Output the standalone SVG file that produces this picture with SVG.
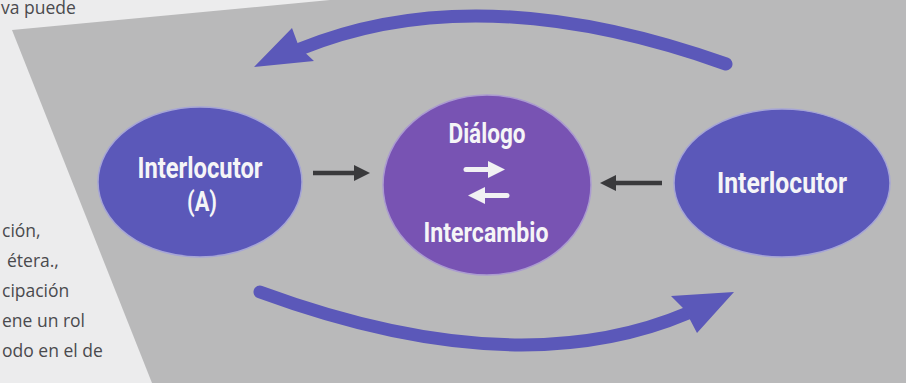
<svg xmlns="http://www.w3.org/2000/svg" width="906" height="383" viewBox="0 0 906 383">
  <style>
    .page { fill: #ececed; }
    .panel { fill: #b9b9ba; }
    .side { font-family: "Open Sans", "Noto Sans", sans-serif; font-size: 17.5px; fill: #4a4a4d; }
    .node-blue { fill: #5b58b9; stroke: #a6a5d6; stroke-width: 1.5; }
    .node-purple { fill: #7853b3; stroke: #ab9bd0; stroke-width: 1.5; }
    .lbl { font-family: "Roboto", "Liberation Sans", sans-serif; font-weight: bold; fill: #f5f5f7; text-anchor: middle; }
    .big-shaft { fill: none; stroke: #5b58b9; stroke-width: 13; stroke-linecap: round; }
    .big-head { fill: #5b58b9; }
    .dark-shaft { stroke: #3a3a3c; stroke-width: 4.5; }
    .dark-head { fill: #3a3a3c; }
    .white-shaft { stroke: #f1f1f3; stroke-width: 5; stroke-linecap: round; }
    .white-head { fill: #f1f1f3; }
  </style>

  <rect class="page" x="0" y="0" width="906" height="383"/>
  <polygon class="panel" points="12,30 330,0 906,0 906,383 152,383"/>

  <g id="page-text">
    <text class="side" x="1" y="14">va puede</text>
    <text class="side" x="2" y="237">ción,</text>
    <text class="side" x="7" y="267">étera.,</text>
    <text class="side" x="2" y="297">cipación</text>
    <text class="side" x="2" y="327">ene un rol</text>
    <text class="side" x="2" y="357">odo en el de</text>
  </g>

  <g id="connectors">
    <g id="arrow-top">
      <path class="big-shaft" d="M726,64 Q478,-24 300,49"/>
      <polygon class="big-head" points="254,67 292,28 299,47 314,61"/>
    </g>
    <g id="arrow-bottom">
      <path class="big-shaft" d="M260,292 Q516,386 688,313"/>
      <polygon class="big-head" points="734,292 671,296 685,310 697,333"/>
    </g>
    <g id="arrow-a-to-center">
      <line class="dark-shaft" x1="313" y1="173" x2="358" y2="173"/>
      <polygon class="dark-head" points="370,173 354,165 354,181"/>
    </g>
    <g id="arrow-b-to-center">
      <line class="dark-shaft" x1="662" y1="183" x2="612" y2="183"/>
      <polygon class="dark-head" points="600,183 616,175 616,191"/>
    </g>
  </g>

  <g id="node-interlocutor-a">
    <ellipse class="node-blue" cx="200" cy="182" rx="102" ry="75"/>
    <text class="lbl" x="200" y="178" font-size="30" textLength="125" lengthAdjust="spacingAndGlyphs">Interlocutor</text>
    <text class="lbl" x="202" y="211" font-size="28" textLength="30" lengthAdjust="spacingAndGlyphs">(A)</text>
  </g>

  <g id="node-dialogo">
    <ellipse class="node-purple" cx="487" cy="185" rx="104" ry="90"/>
    <text class="lbl" x="487" y="143" font-size="28" textLength="77" lengthAdjust="spacingAndGlyphs">Diálogo</text>
    <line class="white-shaft" x1="466" y1="169.5" x2="490" y2="169.5"/>
    <polygon class="white-head" points="505,169.5 488,161 488,178"/>
    <line class="white-shaft" x1="484" y1="195.5" x2="507" y2="195.5"/>
    <polygon class="white-head" points="468,195.5 485,187 485,204"/>
    <text class="lbl" x="486" y="242" font-size="28" textLength="125" lengthAdjust="spacingAndGlyphs">Intercambio</text>
  </g>

  <g id="node-interlocutor-b">
    <ellipse class="node-blue" cx="782" cy="183" rx="108" ry="74"/>
    <text class="lbl" x="782" y="193" font-size="30" textLength="130" lengthAdjust="spacingAndGlyphs">Interlocutor</text>
  </g>
</svg>
